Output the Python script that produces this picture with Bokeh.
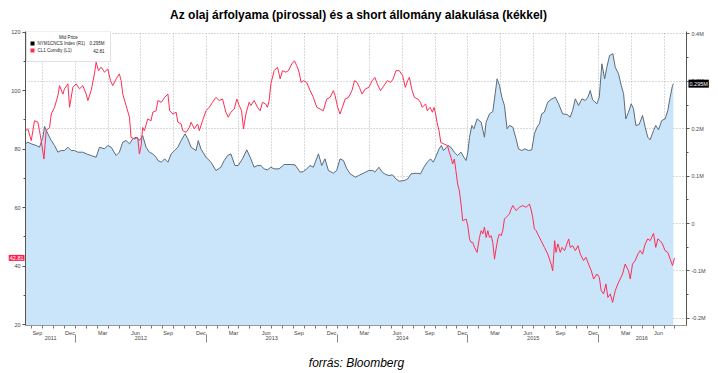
from bokeh.plotting import figure
from bokeh.models import Range1d, LinearAxis, FixedTicker, Label, BoxAnnotation, Grid
from bokeh.embed import file_html
from bokeh.resources import INLINE

# ---------------- data ----------------
# CL1 Comdty (WTI front month), decimal years / USD
oil_t = [2011.619, 2011.636, 2011.662, 2011.687, 2011.713, 2011.725, 2011.738, 2011.759, 2011.776, 2011.802,
         2011.815, 2011.840, 2011.866, 2011.878, 2011.904, 2011.916, 2011.942, 2011.955, 2011.980, 2012.005,
         2012.031, 2012.056, 2012.082, 2012.095, 2012.120, 2012.145, 2012.158, 2012.176, 2012.196, 2012.222,
         2012.247, 2012.268, 2012.285, 2012.311, 2012.336, 2012.349, 2012.362, 2012.387, 2012.413, 2012.425,
         2012.451, 2012.476, 2012.489, 2012.502, 2012.514, 2012.527, 2012.553, 2012.578, 2012.591, 2012.616,
         2012.631, 2012.657, 2012.682, 2012.707, 2012.720, 2012.745, 2012.770, 2012.783, 2012.808, 2012.821,
         2012.846, 2012.871, 2012.884, 2012.909, 2012.934, 2012.947, 2012.972, 2012.998, 2013.023, 2013.048,
         2013.074, 2013.099, 2013.125, 2013.150, 2013.168, 2013.188, 2013.214, 2013.234, 2013.252, 2013.270,
         2013.285, 2013.303, 2013.328, 2013.341, 2013.366, 2013.392, 2013.412, 2013.430, 2013.455, 2013.468,
         2013.481, 2013.494, 2013.519, 2013.545, 2013.565, 2013.583, 2013.608, 2013.628, 2013.654, 2013.674,
         2013.692, 2013.710, 2013.725, 2013.743, 2013.768, 2013.794, 2013.819, 2013.845, 2013.870, 2013.895,
         2013.921, 2013.947, 2013.972, 2013.985, 2014.005, 2014.023, 2014.041, 2014.062, 2014.088, 2014.114,
         2014.134, 2014.153, 2014.171, 2014.191, 2014.217, 2014.243, 2014.269, 2014.289, 2014.308, 2014.333,
         2014.359, 2014.385, 2014.411, 2014.429, 2014.450, 2014.476, 2014.502, 2014.522, 2014.540, 2014.553,
         2014.574, 2014.592, 2014.618, 2014.638, 2014.651, 2014.677, 2014.690, 2014.711, 2014.729, 2014.742,
         2014.754, 2014.767, 2014.780, 2014.793, 2014.819, 2014.845, 2014.858, 2014.871, 2014.884, 2014.897,
         2014.909, 2014.922, 2014.935, 2014.948, 2014.961, 2014.987, 2015.000, 2015.013, 2015.025, 2015.038,
         2015.051, 2015.071, 2015.089, 2015.102, 2015.115, 2015.127, 2015.140, 2015.153, 2015.166, 2015.178,
         2015.191, 2015.204, 2015.216, 2015.229, 2015.242, 2015.255, 2015.267, 2015.280, 2015.293, 2015.318,
         2015.331, 2015.344, 2015.369, 2015.394, 2015.420, 2015.445, 2015.471, 2015.483, 2015.496, 2015.509,
         2015.522, 2015.534, 2015.560, 2015.586, 2015.611, 2015.637, 2015.649, 2015.657, 2015.664, 2015.674,
         2015.689, 2015.707, 2015.720, 2015.740, 2015.758, 2015.771, 2015.783, 2015.801, 2015.822, 2015.842,
         2015.860, 2015.885, 2015.903, 2015.923, 2015.944, 2015.962, 2015.987, 2016.005, 2016.020, 2016.038,
         2016.056, 2016.071, 2016.089, 2016.107, 2016.127, 2016.147, 2016.165, 2016.183, 2016.203, 2016.229,
         2016.242, 2016.259, 2016.280, 2016.300, 2016.318, 2016.336, 2016.356, 2016.376, 2016.394, 2016.420,
         2016.437, 2016.453, 2016.470, 2016.488, 2016.508, 2016.529, 2016.547, 2016.565, 2016.580]
oil_px = [86.3, 86.9, 82.9, 89.7, 89.2, 86.3, 82.9, 76.6, 86.3, 87.4,
          92.0, 94.3, 98.3, 101.7, 98.8, 100.6, 102.3, 94.3, 101.1, 102.3,
          100.6, 101.7, 98.8, 96.6, 100.0, 105.7, 109.7, 106.8, 108.0, 106.3,
          107.4, 103.4, 101.7, 104.0, 105.7, 103.4, 98.8, 94.9, 90.9, 84.0,
          83.5, 84.0, 78.3, 81.2, 87.4, 86.3, 90.3, 89.7, 92.6, 93.1,
          96.6, 96.0, 97.7, 98.8, 93.1, 92.0, 92.6, 89.2, 88.6, 86.3,
          85.7, 87.4, 89.2, 86.9, 88.6, 86.3, 89.7, 93.1, 94.3, 96.0,
          97.7, 96.6, 97.1, 92.6, 90.9, 92.6, 93.7, 97.1, 94.9, 93.1,
          86.9, 92.0, 96.0, 94.9, 96.6, 94.3, 93.1, 96.0, 95.4, 94.3,
          96.6, 102.3, 106.8, 108.0, 104.0, 106.8, 106.3, 106.8, 109.1, 110.2,
          108.5, 106.3, 102.8, 103.4, 102.8, 100.0, 97.7, 94.3, 93.7, 93.1,
          97.1, 97.7, 100.0, 98.3, 94.3, 92.0, 94.3, 97.1, 97.7, 100.0,
          103.4, 102.8, 101.1, 98.8, 100.6, 101.1, 103.4, 104.5, 102.3, 100.0,
          101.7, 103.4, 102.8, 104.0, 106.8, 106.8, 105.1, 101.1, 103.4, 104.5,
          100.0, 97.7, 97.1, 96.0, 94.3, 95.4, 93.1, 94.3, 92.6, 94.3,
          92.0, 88.6, 86.3, 82.3, 81.7, 81.2, 78.9, 77.2, 74.9, 76.6,
          72.6, 68.1, 65.8, 61.2, 55.5, 56.1, 53.8, 49.3, 48.1, 48.1,
          46.4, 44.7, 49.8, 52.1, 51.0, 53.3, 49.8, 52.1, 49.8, 50.4,
          48.1, 42.4, 45.9, 49.3, 51.0, 50.4, 52.1, 56.1, 56.7, 57.8,
          59.5, 60.7, 59.0, 60.1, 60.7, 60.1, 61.2, 59.5, 56.7, 52.7,
          52.1, 51.0, 48.7, 46.4, 44.1, 40.7, 38.4, 44.0, 48.7, 44.7,
          47.6, 44.7, 46.4, 45.3, 47.6, 49.3, 46.4, 47.0, 45.3, 47.0,
          44.1, 41.9, 43.0, 40.7, 38.4, 35.6, 37.3, 36.2, 31.6, 30.5,
          33.9, 29.3, 30.5, 27.6, 31.6, 33.9, 35.6, 37.3, 40.7, 38.4,
          35.6, 40.7, 41.9, 44.1, 45.3, 44.1, 47.6, 49.3, 48.7, 51.2,
          46.4, 49.3, 48.7, 47.6, 45.3, 44.7, 42.4, 40.2, 42.81]

# NYM1CNCS Index (net short positions), decimal years / thousands
short_t = [2011.619, 2011.636, 2011.662, 2011.700, 2011.725, 2011.751, 2011.764, 2011.789, 2011.815, 2011.840,
           2011.866, 2011.891, 2011.916, 2011.942, 2011.967, 2011.993, 2012.018, 2012.056, 2012.082, 2012.120,
           2012.158, 2012.184, 2012.222, 2012.247, 2012.273, 2012.311, 2012.336, 2012.362, 2012.387, 2012.413,
           2012.438, 2012.464, 2012.489, 2012.514, 2012.540, 2012.565, 2012.591, 2012.616, 2012.631, 2012.657,
           2012.682, 2012.707, 2012.732, 2012.758, 2012.783, 2012.808, 2012.838, 2012.859, 2012.884, 2012.922,
           2012.939, 2012.959, 2012.998, 2013.036, 2013.074, 2013.112, 2013.137, 2013.163, 2013.188, 2013.219,
           2013.244, 2013.277, 2013.310, 2013.341, 2013.366, 2013.392, 2013.417, 2013.443, 2013.468, 2013.494,
           2013.519, 2013.557, 2013.596, 2013.641, 2013.679, 2013.718, 2013.743, 2013.768, 2013.794, 2013.819,
           2013.858, 2013.883, 2013.908, 2013.934, 2013.972, 2013.997, 2014.023, 2014.049, 2014.075, 2014.101,
           2014.140, 2014.165, 2014.191, 2014.217, 2014.243, 2014.274, 2014.289, 2014.320, 2014.346, 2014.372,
           2014.398, 2014.424, 2014.450, 2014.475, 2014.514, 2014.540, 2014.566, 2014.605, 2014.638, 2014.664,
           2014.690, 2014.715, 2014.736, 2014.754, 2014.780, 2014.798, 2014.814, 2014.850, 2014.870, 2014.896,
           2014.922, 2014.948, 2014.969, 2014.987, 2015.000, 2015.013, 2015.031, 2015.046, 2015.071, 2015.102,
           2015.127, 2015.140, 2015.166, 2015.191, 2015.209, 2015.224, 2015.242, 2015.260, 2015.280, 2015.300,
           2015.318, 2015.344, 2015.369, 2015.387, 2015.412, 2015.438, 2015.463, 2015.489, 2015.509, 2015.529,
           2015.547, 2015.565, 2015.585, 2015.611, 2015.636, 2015.669, 2015.694, 2015.725, 2015.758, 2015.783,
           2015.801, 2015.822, 2015.847, 2015.873, 2015.898, 2015.918, 2015.936, 2015.954, 2015.987, 2016.005,
           2016.025, 2016.046, 2016.063, 2016.084, 2016.109, 2016.127, 2016.152, 2016.173, 2016.191, 2016.208,
           2016.229, 2016.249, 2016.267, 2016.285, 2016.310, 2016.336, 2016.356, 2016.376, 2016.394, 2016.420,
           2016.437, 2016.458, 2016.483, 2016.509, 2016.529, 2016.547, 2016.565, 2016.572]
short_k = [168.1, 171.6, 168.1, 164.6, 161.0, 182.1, 204.6, 189.2, 175.1, 164.6,
           150.5, 154.0, 154.0, 161.0, 154.0, 154.0, 150.5, 150.5, 147.0, 143.5,
           139.9, 161.0, 157.5, 164.6, 161.0, 143.5, 150.5, 171.6, 175.1, 168.1,
           178.6, 182.1, 175.1, 185.6, 161.0, 150.5, 147.0, 140.0, 132.9, 129.4,
           136.4, 129.4, 147.0, 154.0, 161.0, 175.1, 189.2, 178.6, 161.0, 154.0,
           175.1, 157.5, 139.9, 129.4, 111.8, 118.8, 132.9, 143.5, 147.0, 122.4,
           122.4, 136.4, 155.4, 136.4, 118.8, 122.4, 122.4, 115.3, 113.2, 118.8,
           115.3, 115.3, 124.5, 124.5, 123.8, 108.3, 109.7, 115.3, 122.4, 118.8,
           147.0, 122.4, 136.4, 111.8, 106.2, 111.8, 136.4, 132.9, 115.3, 104.8,
           97.7, 101.3, 104.8, 108.3, 111.8, 111.8, 108.3, 118.8, 108.3, 103.4,
           101.3, 102.7, 94.2, 89.3, 90.7, 94.2, 104.8, 106.2, 104.8, 118.8,
           129.4, 136.4, 129.4, 139.9, 157.5, 164.6, 154.0, 164.6, 161.0, 150.5,
           143.5, 150.5, 139.9, 132.9, 150.5, 182.1, 206.8, 199.7, 220.8, 213.8,
           182.1, 213.8, 231.4, 236.3, 273.6, 305.2, 291.2, 266.5, 249.0, 199.7,
           206.8, 203.3, 178.6, 157.5, 154.0, 157.5, 154.0, 155.4, 189.2, 203.3,
           210.3, 231.4, 234.9, 256.0, 261.6, 266.5, 252.5, 231.4, 230.0, 224.3,
           238.4, 263.0, 249.0, 263.0, 259.5, 266.5, 280.6, 260.9, 252.5, 266.5,
           336.9, 305.2, 329.8, 354.5, 358.0, 329.8, 315.8, 291.2, 273.6, 220.8,
           234.9, 252.5, 241.9, 206.8, 208.9, 227.9, 203.3, 182.1, 176.5, 196.2,
           206.8, 197.6, 217.3, 220.8, 238.4, 266.5, 291.2, 295.0]

month_names = ["Jan", "Feb", "Mar", "Apr", "May", "Jun", "Jul", "Aug", "Sep", "Oct", "Nov", "Dec"]
labelled_months = ["Sep", "Dec", "Mar", "Jun"]
year_labels = ["2011", "2012", "2013", "2014", "2015", "2016"]
left_ticks = [20, 40, 60, 80, 100, 120]
right_ticks = [-200, -100, 0, 100, 200, 300, 400]
right_labels = ["-0.2M", "-0.1M", "0", "0.1M", "0.2M", "0.3M", "0.4M"]
last_short_label = "0.295M"
last_oil_label = "42.81"

# ---------------- helpers: x in months since Jan 2011 ----------------
def to_m(t):
    return (t - 2011.0) * 12.0

ox = [to_m(t) for t in oil_t]
sx = [to_m(t) for t in short_t]

X0, X1 = to_m(2011.618), to_m(2016.672)
OIL_RANGE = (19.7, 120.2)
SHORT_RANGE = (-215, 405)

month_starts = list(range(8, 68))
label_ticks = [m + 0.5 for m in month_starts if month_names[m % 12] in labelled_months]
label_over = {m: month_names[int(m) % 12] for m in label_ticks}
quarter_starts = [m for m in month_starts if m % 3 == 0]
year_pos = [to_m(2011.81), 18, 30, 42, 54, to_m(2016.33)]
year_over = dict(zip(year_pos, year_labels))
year_seps = [12, 24, 36, 48, 60]

RED = "#ff2d55"
FILL = "#cae4fa"
BLUE_LINE = "#5b6b7a"
AX = "#555555"
TICKC = "#444444"
GRIDC = "#b4b4b4"
FONT = "Liberation Sans"

W, H = 718, 373
BL, BR, BT, BB = 25, 32, 31, 48
FW, FH = W - BL - BR, H - BT - BB

p = figure(width=W, height=H, output_backend="svg", toolbar_location=None,
           x_range=Range1d(X0, X1), y_range=Range1d(*OIL_RANGE),
           x_axis_type=None, y_axis_type=None,
           min_border_left=BL, min_border_right=BR, min_border_top=BT, min_border_bottom=BB)
p.extra_y_ranges = {"short": Range1d(*SHORT_RANGE)}
p.outline_line_color = None
p.background_fill_color = "white"
p.border_fill_color = "white"

# grids
p.add_layout(Grid(dimension=0, ticker=FixedTicker(ticks=quarter_starts),
                  grid_line_color=GRIDC, grid_line_dash="1 2", grid_line_width=1))
p.add_layout(Grid(dimension=1, y_range_name="short", ticker=FixedTicker(ticks=right_ticks),
                  grid_line_color=GRIDC, grid_line_dash="1 2", grid_line_width=1))

# series
p.varea(x=sx, y1=-400, y2=short_k, y_range_name="short", fill_color=FILL, fill_alpha=1.0)
p.line(sx, short_k, y_range_name="short", line_color=BLUE_LINE, line_width=1)
p.line(ox, oil_px, line_color=RED, line_width=1)

def style_axis(a, size="5.5px"):
    a.major_label_text_font = FONT
    a.major_label_text_font_size = size
    a.major_label_text_color = TICKC

# month axis
xa = LinearAxis(ticker=FixedTicker(ticks=label_ticks, minor_ticks=month_starts),
                major_label_overrides=label_over)
xa.major_tick_line_color = None
xa.major_tick_out = 0
xa.major_tick_in = 0
xa.minor_tick_out = 3
xa.minor_tick_in = 0
xa.minor_tick_line_color = "#777777"
xa.axis_line_color = "#999999"
xa.major_label_standoff = 1
style_axis(xa)
p.add_layout(xa, "below")

# year axis
ya = LinearAxis(ticker=FixedTicker(ticks=year_pos, minor_ticks=year_seps),
                major_label_overrides=year_over)
ya.axis_line_color = None
ya.major_tick_line_color = None
ya.major_tick_out = 0
ya.major_tick_in = 0
ya.minor_tick_out = 4
ya.minor_tick_in = 4
ya.minor_tick_line_color = "#888888"
ya.major_label_standoff = -7
style_axis(ya)
p.add_layout(ya, "below")

# left axis (oil)
la = LinearAxis(ticker=FixedTicker(ticks=left_ticks, minor_ticks=[30, 50, 70, 90, 110]))
la.axis_line_color = AX
la.major_tick_out = 3
la.major_tick_in = 0
la.minor_tick_out = 2
la.minor_tick_in = 0
la.major_tick_line_color = AX
la.minor_tick_line_color = AX
la.major_label_standoff = 2
style_axis(la)
p.add_layout(la, "left")

# right axis (short)
ra = LinearAxis(y_range_name="short",
                ticker=FixedTicker(ticks=right_ticks, minor_ticks=[-150, -50, 50, 150, 250, 350]),
                major_label_overrides=dict(zip(right_ticks, right_labels)))
ra.axis_line_color = AX
ra.major_tick_out = 3
ra.major_tick_in = 0
ra.minor_tick_out = 2
ra.minor_tick_in = 0
ra.major_tick_line_color = AX
ra.minor_tick_line_color = AX
ra.major_label_standoff = 2
style_axis(ra)
p.add_layout(ra, "right")

def screen_y(v, rng):
    return (v - rng[0]) / (rng[1] - rng[0]) * FH

def sbox(l, r, t, b, color, level="overlay"):
    return BoxAnnotation(left=l, right=r, top=t, bottom=b,
                         left_units="screen", right_units="screen",
                         top_units="screen", bottom_units="screen",
                         fill_color=color, fill_alpha=1.0, line_color=None, level=level)

def slabel(x, y, txt, size, color, align, style="normal", bg=None, level="overlay"):
    return Label(x=x, y=y, x_units="screen", y_units="screen", text=txt,
                 text_font=FONT, text_font_size=size, text_color=color, text_font_style=style,
                 text_align=align, text_baseline="middle", level=level,
                 background_fill_color=bg, padding=1)

# ---- texts outside the frame live in side panels (not clipped) ----
# panel stacking above the frame: [marker A][marker B][title], nearest first
HA = 8.0   # approx height of a 5.5px label panel (incl. padding)
HB = 8.0
ys = screen_y(short_k[-1], SHORT_RANGE)
yo = screen_y(oil_px[-1], OIL_RANGE)
p.add_layout(slabel(FW + 2, ys - FH, last_short_label, "5.5px", "white", "left", bg="black",
                    level="annotation"), "above")
p.add_layout(slabel(-1, yo - FH - HA, last_oil_label, "5.5px", "white", "right", bg="#ff1f4b",
                    level="annotation"), "above")
p.add_layout(slabel(333, 19 - HA - HB, "Az olaj árfolyama (pirossal) és a short állomány alakulása (kékkel)",
                    "12px", "black", "center", "bold", level="annotation"), "above")
p.add_layout(slabel(331, -4, "forrás: Bloomberg", "12px", "black", "center", "italic",
                    level="annotation"), "below")

# legend box (inside the frame)
lg = BoxAnnotation(left=1, right=85, top=FH, bottom=264,
                   left_units="screen", right_units="screen",
                   top_units="screen", bottom_units="screen",
                   fill_color="white", fill_alpha=1.0, line_color="#9a9a9a",
                   line_width=1, level="overlay")
p.add_layout(lg)
p.add_layout(sbox(5, 9, 284, 280, "black"))
p.add_layout(sbox(5, 9, 277, 273, RED))
for (tx, ty, txt, al) in [(43, 288.5, "Mid Price", "center"),
                          (11, 282, "NYM1CNCS Index (R1)", "left"),
                          (80, 282, last_short_label, "right"),
                          (11, 275, "CL1 Comdty (L1)", "left"),
                          (80, 275, last_oil_label, "right")]:
    p.add_layout(slabel(tx, ty, txt, "4.5px", "#222222", al))

open("out.html", "w").write(file_html(p, INLINE))
